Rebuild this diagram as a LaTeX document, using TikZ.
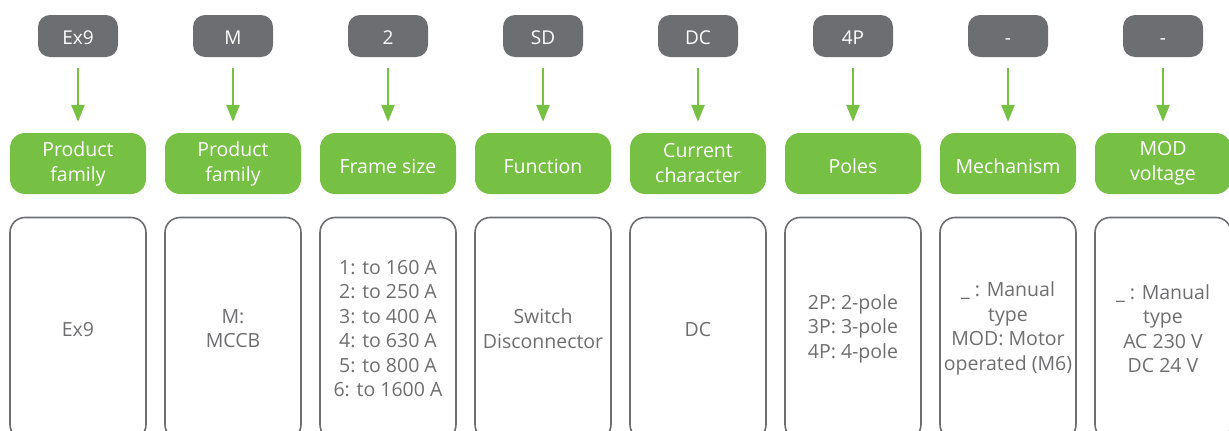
\documentclass[tikz,border=0pt]{standalone}
\usepackage{fontspec}
\setmainfont{Open Sans}
\usepackage{tikz}
\usetikzlibrary{
	arrows.meta,
	positioning
}
\definecolor{TagGray}{RGB}{109,110,113}
\definecolor{CodeGreen}{RGB}{118,192,67}
\definecolor{TextGray}{RGB}{110,110,112}

\begin{document}
\begin{tikzpicture}[x=1pt, y=-1pt,
		every node/.style={inner sep=0pt},
		lift/.code={\ifdim#1>0pt \tikzset{execute at begin node={\rule{0pt}{#1}}}\fi},
		tag/.style={fill=TagGray, rounded corners=12pt, minimum width=80pt, minimum height=42pt, text=white, font=\fontsize{19}{24}\selectfont, lift=17.5pt},
		field/.style={fill=CodeGreen, rounded corners=15pt, minimum width=136pt, minimum height=61pt, text=white, align=center, font=\fontsize{19.5}{25}\selectfont},
		option/.style={draw=TagGray, line width=1.6pt, rounded corners=15pt, minimum width=136pt, minimum height=222pt, text=TextGray, align=center, font=\fontsize{19.5}{24.5}\selectfont},
		pointer/.style={-{Triangle[width=13pt, length=17pt]}, line width=2.6pt, CodeGreen, shorten <=11pt, shorten >=11pt}
	]
	\useasboundingbox (0,0) rectangle (1229,431);
	\foreach \i/\code/\name/\fl/\opts/\ol in {
		1/Ex9/{Product\\family}/0pt/{Ex9}/17pt,
		2/M/{Product\\family}/0pt/{M:\\MCCB}/0pt,
		3/2/{Frame size}/19.5pt/{1: to 160 A\\2: to 250 A\\3: to 400 A\\4: to 630 A\\5: to 800 A\\6: to 1600 A}/0pt,
		4/SD/{Function}/19.5pt/{Switch\\Disconnector}/0pt,
		5/DC/{Current\\character}/0pt/{DC}/17pt,
		6/4P/{Poles}/19.5pt/{2P: 2-pole\\3P: 3-pole\\4P: 4-pole}/0pt,
		7/-/{Mechanism}/19.5pt/{\_ : Manual\\type\\MOD: Motor\\operated (M6)}/0pt,
		8/-/{MOD\\voltage}/0pt/{\_ : Manual\\type\\AC 230 V\\DC 24 V}/0pt} {
		\node[tag] (tag\i) at ({78+155*(\i-1)},36) {\code};
		\node[field, lift=\fl] (field\i) at ({78+155*(\i-1)},163.5) {\name};
		\node[option, lift=\ol] (opt\i) at ({78+155*(\i-1)},328.5) {\opts};
		\draw[pointer] (tag\i) -- (field\i);
	}
\end{tikzpicture}
\end{document}
